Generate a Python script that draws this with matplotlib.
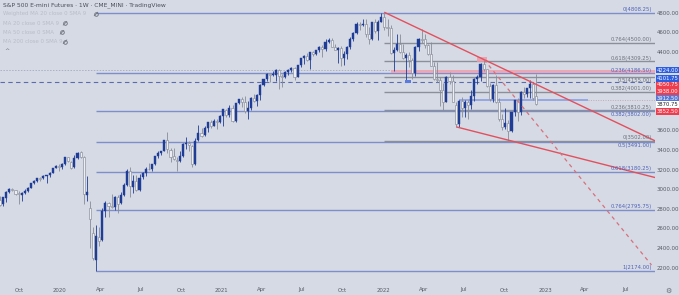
import numpy as np
import pandas as pd
import matplotlib
matplotlib.use("Agg")
import matplotlib.pyplot as plt
import matplotlib.dates as mdates
from matplotlib.patches import Rectangle

# weekly candles, ES continuous
first_week = "2019-08-19"
opens_2019 = [2890, 2850, 2915, 2980, 3005, 2995, 2965, 2950, 2965, 2985, 3020, 3070, 3090, 3120, 3115, 3140, 3145, 3172, 3225, 3240]
highs_2019 = [2940, 2930, 2985, 3020, 3022, 3002, 2990, 2980, 3005, 3025, 3068, 3095, 3120, 3128, 3155, 3150, 3185, 3225, 3250, 3260]
lows_2019 = [2836, 2835, 2870, 2965, 2990, 2945, 2856, 2880, 2955, 2980, 3015, 3060, 3075, 3090, 3110, 3065, 3125, 3170, 3220, 3190]
closes_2019 = [2847, 2924, 2979, 3007, 2994, 2961, 2952, 2970, 2986, 3022, 3066, 3093, 3120, 3110, 3143, 3146, 3170, 3222, 3240, 3235]

opens_2020 = [3235, 3265, 3330, 3285, 3230, 3325, 3380, 3335, 2950, 2810, 2560, 2280, 2520, 2490, 2780, 2860, 2830, 2825,
              2925, 2860, 2950, 3045, 3195, 3030, 3090, 3000, 3130, 3175, 3215, 3210, 3260, 3345, 3370, 3395, 3505, 3410,
              3340, 3300, 3295, 3340, 3470, 3475, 3450, 3260, 3510, 3580, 3555, 3630, 3690, 3655, 3705, 3695]
highs_2020 = [3270, 3330, 3337, 3290, 3350, 3380, 3397, 3340, 3137, 2880, 2620, 2640, 2620, 2815, 2880, 2870, 2960, 2935,
              2945, 2980, 3070, 3212, 3230, 3150, 3150, 3160, 3185, 3230, 3275, 3265, 3345, 3390, 3400, 3510, 3587, 3425,
              3425, 3330, 3400, 3480, 3540, 3495, 3460, 3525, 3665, 3630, 3645, 3695, 3715, 3725, 3720, 3760]
lows_2020 = [3210, 3255, 3280, 3215, 3220, 3315, 3325, 2855, 2880, 2400, 2280, 2174, 2430, 2480, 2720, 2720, 2810, 2790,
             2760, 2850, 2940, 3040, 2930, 2965, 2990, 2985, 3110, 3140, 3200, 3195, 3255, 3320, 3355, 3390, 3370, 3280,
             3300, 3190, 3280, 3330, 3420, 3400, 3230, 3255, 3500, 3540, 3550, 3590, 3630, 3645, 3620, 3680]
closes_2020 = [3264, 3329, 3291, 3224, 3324, 3379, 3338, 2951, 2972, 2700, 2300, 2523, 2480, 2780, 2865, 2830, 2820, 2925,
               2855, 2950, 3045, 3190, 3040, 3085, 3000, 3120, 3175, 3215, 3210, 3260, 3345, 3370, 3395, 3505, 3420, 3335,
               3310, 3290, 3340, 3470, 3475, 3455, 3260, 3500, 3575, 3550, 3630, 3690, 3655, 3705, 3690, 3750]

opens_2021 = [3750, 3815, 3760, 3835, 3700, 3880, 3925, 3900, 3805, 3835, 3935, 3905, 3970, 4070, 4125, 4180, 4175, 4175,
              4225, 4165, 4150, 4200, 4225, 4245, 4155, 4270, 4345, 4365, 4320, 4405, 4385, 4425, 4460, 4435, 4505, 4530,
              4460, 4425, 4445, 4345, 4385, 4460, 4540, 4600, 4690, 4680, 4695, 4585, 4535, 4710, 4615, 4715]
highs_2021 = [3825, 3825, 3860, 3865, 3885, 3930, 3945, 3955, 3910, 3950, 3980, 3980, 4075, 4130, 4190, 4185, 4215, 4235,
              4235, 4180, 4215, 4235, 4250, 4255, 4275, 4345, 4370, 4390, 4410, 4420, 4430, 4465, 4480, 4535, 4545, 4545,
              4490, 4460, 4465, 4420, 4470, 4555, 4605, 4715, 4715, 4740, 4745, 4660, 4715, 4740, 4730, 4805]
lows_2021 = [3650, 3740, 3745, 3690, 3695, 3870, 3840, 3780, 3720, 3815, 3890, 3850, 3920, 4060, 4110, 4095, 4160, 4110,
             4030, 4050, 4140, 4170, 4200, 4120, 4150, 4255, 4280, 4310, 4230, 4360, 4370, 4405, 4350, 4420, 4500, 4455,
             4425, 4290, 4260, 4270, 4330, 4440, 4520, 4590, 4625, 4670, 4560, 4490, 4530, 4600, 4530, 4710]
closes_2021 = [3820, 3760, 3835, 3700, 3880, 3925, 3900, 3805, 3835, 3935, 3905, 3970, 4070, 4125, 4180, 4175, 4178, 4225,
               4165, 4150, 4200, 4225, 4245, 4155, 4270, 4345, 4365, 4320, 4405, 4385, 4425, 4460, 4435, 4505, 4530, 4460,
               4428, 4445, 4345, 4385, 4460, 4540, 4600, 4690, 4680, 4695, 4585, 4535, 4710, 4615, 4715, 4760]

opens_2022 = [4760, 4665, 4655, 4390, 4425, 4490, 4405, 4340, 4375, 4320, 4195, 4455, 4535, 4535, 4480, 4385, 4265, 4130,
              4120, 4020, 3900, 4155, 4105, 3860, 3675, 3910, 3830, 3900, 3860, 3960, 4130, 4150, 4285, 4230, 4060, 3930,
              4070, 3890, 3720, 3640, 3680, 3600, 3790, 3915, 3795, 3995, 3975, 4035, 4080, 3960]
highs_2022 = [4808.25, 4745, 4680, 4455, 4590, 4585, 4485, 4390, 4410, 4340, 4465, 4545, 4637, 4590, 4485, 4510, 4305, 4300,
              4150, 4090, 4160, 4205, 4175, 3900, 3915, 3950, 3920, 3915, 4015, 4140, 4170, 4290, 4327.5, 4235, 4085, 4075,
              4170, 3940, 3775, 3830, 3715, 3795, 3920, 3935, 4010, 4050, 4040, 4115, 4100, 4183]
lows_2022 = [4630, 4570, 4380, 4212, 4420, 4395, 4335, 4101.75, 4255, 4130, 4160, 4420, 4500, 4445, 4370, 4260, 4120, 4100,
             3855, 3810, 3890, 4075, 3895, 3639, 3640, 3740, 3740, 3720, 3820, 3910, 4080, 4110, 4215, 4050, 3906, 3900,
             3880, 3700, 3610, 3620, 3502, 3590, 3750, 3705, 3760, 3935, 3950, 3940, 3920, 3860]
closes_2022 = [4665, 4655, 4390, 4425, 4490, 4405, 4340, 4375, 4320, 4195, 4455, 4535, 4530, 4480, 4385, 4265, 4130, 4120,
               4020, 3900, 4155, 4105, 3900, 3675, 3910, 3830, 3900, 3860, 3960, 4130, 4150, 4285, 4230, 4060, 3930, 4070,
               3890, 3720, 3640, 3680, 3600, 3790, 3915, 3795, 4000, 3975, 4035, 4080, 3938, 3870.75]

# fibonacci drawings
big_fib_ratios = [0, 0.236, 0.382, 0.5, 0.618, 0.764, 1]
big_fib_prices = [4808.25, 4186.50, 3802.00, 3491.00, 3180.25, 2795.75, 2174.00]
small_fib_ratios = [1, 0.764, 0.618, 0.5, 0.382, 0.236, 0]
small_fib_prices = [4808.25, 4500.00, 4309.25, 4155.00, 4001.00, 3810.25, 3502.00]

# right scale
price_ticks = [4800, 4600, 4400, 3600, 3400, 3200, 3000, 2800, 2600, 2400, 2200]
box_labels = ["4224.00", "4101.75", "4050.75", "3938.00", "3912.50", "3870.75", "3852.50"]
time_labels = ["Oct", "2020", "Apr", "Jul", "Oct", "2021", "Apr", "Jul", "Oct", "2022", "Apr", "Jul", "Oct", "2023", "Apr", "Jul"]
time_dates = ["2019-10-01", "2020-01-01", "2020-04-01", "2020-07-01", "2020-10-01", "2021-01-01", "2021-04-01",
              "2021-07-01", "2021-10-01", "2022-01-01", "2022-04-01", "2022-07-01", "2022-10-01", "2023-01-01",
              "2023-04-01", "2023-07-01"]

o = np.array(opens_2019 + opens_2020 + opens_2021 + opens_2022, dtype=float)
h = np.array(highs_2019 + highs_2020 + highs_2021 + highs_2022, dtype=float)
l = np.array(lows_2019 + lows_2020 + lows_2021 + lows_2022, dtype=float)
c = np.array(closes_2019 + closes_2020 + closes_2021 + closes_2022, dtype=float)
weeks = pd.date_range(first_week, periods=len(c), freq="7D")
x = mdates.date2num(weeks)

BG = "#d6dae4"
UP = "#1f3c96"
DN_FILL = "#eceef3"
DN_EDGE = "#878c98"
RED = "#e2505e"
FIB_BLUE = "#7d8ecb"
FIB_GRAY = "#8b8f99"
W, H = 679, 295

fig = plt.figure(figsize=(W / 100, H / 100), dpi=100, facecolor=BG)
ax = fig.add_axes([0, 13 / H, 655 / W, 282 / H], facecolor=BG)
for s in ax.spines.values():
    s.set_visible(False)
ax.set_xticks([])
ax.set_yticks([])

x_left = mdates.date2num(pd.Timestamp("2019-08-19"))
x_right = mdates.date2num(pd.Timestamp("2023-09-06"))
ax.set_xlim(x_left, x_right)
ax.set_ylim(2058, 4936)

# fib levels
big_start = mdates.date2num(pd.Timestamp("2020-03-23"))
small_start = mdates.date2num(pd.Timestamp("2022-01-03"))
for r, p in zip(big_fib_ratios, big_fib_prices):
    ax.hlines(p, big_start, x_right, color=FIB_BLUE, lw=1.0, zorder=1)
for r, p in zip(small_fib_ratios, small_fib_prices):
    if r == 1:
        continue
    ax.hlines(p, small_start, x_right, color=FIB_GRAY, lw=1.0, zorder=1)

# labels sit above their line; where two levels nearly coincide one goes below
ytr = ax.get_yaxis_transform()
below = {("s", 0.5), ("b", 0.382), ("b", 0.5)}
for r, p in zip(small_fib_ratios, small_fib_prices):
    if r == 1:
        continue
    dn = ("s", r) in below
    ax.text(0.9955, p - 10 if dn else p + 8, f"{r:g}({p:.2f})", transform=ytr, ha="right",
            va="top" if dn else "bottom", fontsize=3.8, color="#6d717c", zorder=6)
for r, p in zip(big_fib_ratios, big_fib_prices):
    dn = ("b", r) in below
    ax.text(0.9955, p - 10 if dn else p + 8, f"{r:g}({p:.2f})", transform=ytr, ha="right",
            va="top" if dn else "bottom", fontsize=3.8, color="#4f63b8", zorder=6)

# zone / horizontal lines
zone_start = mdates.date2num(pd.Timestamp("2022-01-19"))
ax.add_patch(Rectangle((zone_start, 4186.5), x_right - zone_start, 4224 - 4186.5,
                       facecolor="#efa2b0", edgecolor="none", alpha=0.9, zorder=2))
ax.hlines(4224, x_left, zone_start, color="#a9b0c4", lw=0.7, linestyles=(0, (1.5, 1.5)), zorder=1)
ax.hlines(4101.75, x_left, x_right, color="#5a6cae", lw=0.8, linestyles=(0, (4, 3)), zorder=2)
sup_start = mdates.date2num(pd.Timestamp("2022-06-20"))
sup_end = mdates.date2num(pd.Timestamp("2023-04-07"))
ax.hlines(3912.5, sup_start, sup_end, color="#8b9de2", lw=1.2, zorder=2)
ax.hlines(3912.5, sup_end, x_right, color="#c4a8b8", lw=0.7, linestyles=(0, (1, 1.5)), zorder=2)

mk_x = mdates.date2num(pd.Timestamp("2022-02-18"))
ax.add_patch(Rectangle((mk_x, 4086), 14, 32, facecolor="#5b7ae0", edgecolor="none", zorder=5))
pk_x = mdates.date2num(pd.Timestamp("2022-07-30"))
ax.add_patch(Rectangle((pk_x, 4306), 23, 45, facecolor="#ee9aa8", edgecolor="none", alpha=0.85, zorder=2))

# candles
up = c >= o
bot = np.minimum(o, c)
ht = np.maximum(np.abs(c - o), 4)
ax.vlines(x[up], l[up], h[up], color=UP, lw=0.6, zorder=3)
ax.vlines(x[~up], l[~up], h[~up], color=DN_EDGE, lw=0.6, zorder=3)
ax.bar(x[up], ht[up], bottom=bot[up], width=4.6, color=UP, edgecolor=UP, lw=0.3, zorder=3.5)
ax.bar(x[~up], ht[~up], bottom=bot[~up], width=4.6, color=DN_FILL, edgecolor=DN_EDGE, lw=0.45, zorder=3.5)


def extend(d0, p0, d1, p1, d_end):
    a, b = mdates.date2num(pd.Timestamp(d0)), mdates.date2num(pd.Timestamp(d1))
    slope = (p1 - p0) / (b - a)
    return [a, d_end], [p0, p0 + slope * (d_end - a)]


xs, ys = extend("2022-01-04", 4808.25, "2022-08-16", 4327.5, x_right)
ax.plot(xs, ys, color=RED, lw=1.0, zorder=4)
xs, ys = extend("2022-06-16", 3639, "2022-10-13", 3502, x_right)
ax.plot(xs, ys, color=RED, lw=1.0, zorder=4)
d_end = mdates.date2num(pd.Timestamp("2023-08-29"))
ax.plot([mdates.date2num(pd.Timestamp("2022-08-16")), d_end], [4327.5, 2232], color="#d8707c",
        lw=0.9, linestyle=(0, (3, 3)), zorder=4)

# right price scale
for p in price_ticks:
    ax.text(1.0 + 13 / 655, p, f"{p:.2f}", transform=ytr, ha="center", va="center",
            fontsize=3.9, color="#555a66", clip_on=False)

box_y = [70, 78.3, 85, 91.7, 98.6, 104.6, 111.2]
box_fc = ["#2e5ee0", "#2e5ee0", "#ef3d4d", "#ef3d4d", "#5577d6", "#ffffff", "#ef3d4d"]
for lab, yy, fc in zip(box_labels, box_y, box_fc):
    fig.patches.append(Rectangle((656 / W, 1 - (yy + 3.3) / H), 23 / W, 6.6 / H, transform=fig.transFigure,
                                 facecolor=fc, edgecolor="none"))
    fig.text(667.5 / W, 1 - yy / H, lab, ha="center", va="center", fontsize=3.8,
             color="#222222" if fc == "#ffffff" else "white")

# time scale
xtr = ax.get_xaxis_transform()
for lab, d in zip(time_labels, time_dates):
    ax.text(mdates.date2num(pd.Timestamp(d)), -8 / 282, lab, transform=xtr, ha="center", va="center",
            fontsize=3.9, color="#555a66", clip_on=False)
fig.text(668 / W, 1 - 290.5 / H, "\u2699", ha="center", va="center", fontsize=5, color="#666a75")

# legend block
fig.text(3 / W, 1 - 5 / H, "S&P 500 E-mini Futures \u00b7 1W \u00b7 CME_MINI \u00b7 TradingView",
         ha="left", va="center", fontsize=4.3, color="#4a4e59")
legend_rows = ["Weighted MA 20 close 0 SMA 9", "MA 20 close 0 SMA 9", "MA 50 close 0 SMA", "MA 200 close 0 SMA 9"]
row_y = [14, 23.3, 32.3, 41.7]
eye_x = [96, 65, 62, 65]
for txt, yy, ex in zip(legend_rows, row_y, eye_x):
    fig.text(3 / W, 1 - yy / H, txt, ha="left", va="center", fontsize=3.9, color="#b9bdc8")
    fig.lines.append(plt.Line2D([ex / W], [1 - yy / H], transform=fig.transFigure, marker="o",
                                ms=2.6, mfc="none", mec="#6b6f7a", mew=0.6))
    fig.lines.append(plt.Line2D([(ex - 1.8) / W, (ex + 1.8) / W], [1 - (yy + 1.8) / H, 1 - (yy - 1.8) / H],
                                transform=fig.transFigure, color="#6b6f7a", lw=0.5))
fig.text(7 / W, 1 - 50 / H, "^", ha="center", va="center", fontsize=4.5, color="#6b6f7a")

fig.savefig("out.png", dpi=100, facecolor=BG)
